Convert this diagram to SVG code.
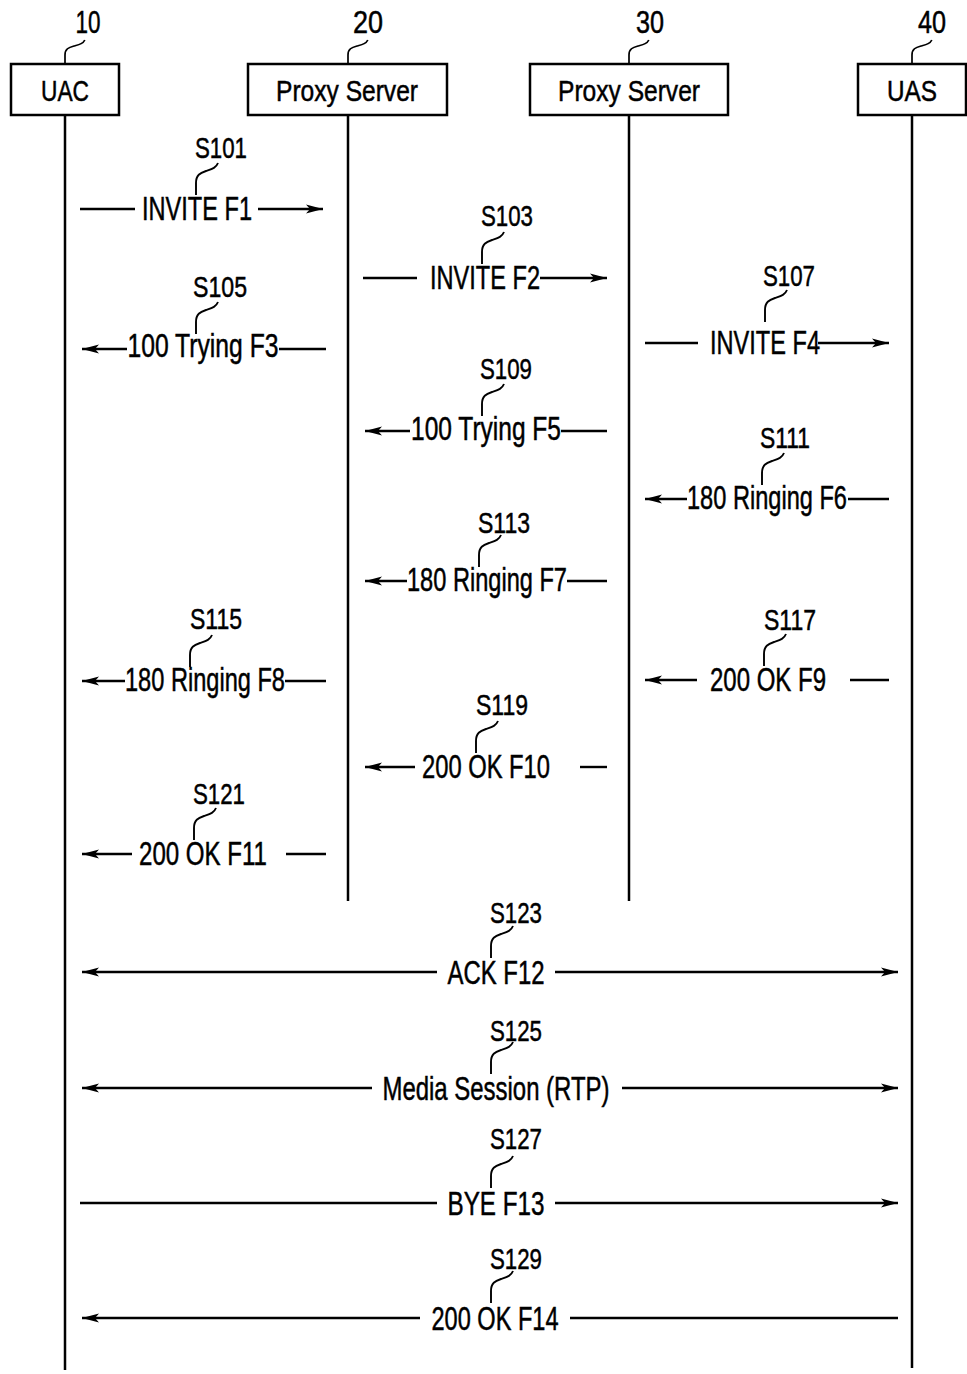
<svg xmlns="http://www.w3.org/2000/svg" xmlns:xlink="http://www.w3.org/1999/xlink" width="967" height="1374" viewBox="0 0 967 1374">
<style>
.bg{fill:#fff}
.box{fill:#fff;stroke:#000;stroke-width:2.5}
.life{stroke:#000;stroke-width:2.5;fill:none}
.msg{stroke:#000;stroke-width:2.4;fill:none}
.ld{stroke:#000;stroke-width:1.9;fill:none}
text{font-family:"Liberation Sans Narrow","Liberation Sans",Arial,sans-serif;fill:#000;stroke:#000;stroke-width:0.5;text-anchor:middle}
.nm{font-size:30px}
.num{font-size:32px}
.sl{font-size:30px}
.ml{font-size:33px}
</style>
<defs>
<marker id="ah" markerWidth="20" markerHeight="12" refX="17" refY="6" orient="auto" markerUnits="userSpaceOnUse">
<path d="M0,1.5 L17,6 L0,10.5 L4,6 z" fill="#000"/>
</marker>
<path id="lead" class="ld" d="M0,0 L0,-12 C0,-20 4,-22 10,-24 C16,-26 20,-27 22,-32"/>
</defs>
<rect class="bg" x="0" y="0" width="967" height="1374"/>

<g id="node-uac">
<rect class="box" x="11" y="64" width="108" height="51"/>
<text class="nm" x="65" y="101" textLength="48" lengthAdjust="spacingAndGlyphs">UAC</text>
<text class="num" x="88" y="33" textLength="25" lengthAdjust="spacingAndGlyphs">10</text>
<use xlink:href="#lead" transform="translate(65,64) scale(0.9,0.75)"/>
<line class="life" x1="65" y1="115" x2="65" y2="1370"/>
</g>
<g id="node-proxy20">
<rect class="box" x="248" y="64" width="199" height="51"/>
<text class="nm" x="347" y="101" textLength="142" lengthAdjust="spacingAndGlyphs">Proxy Server</text>
<text class="num" x="368" y="33" textLength="30" lengthAdjust="spacingAndGlyphs">20</text>
<use xlink:href="#lead" transform="translate(348,64) scale(0.9,0.75)"/>
<line class="life" x1="348" y1="115" x2="348" y2="901"/>
</g>
<g id="node-proxy30">
<rect class="box" x="530" y="64" width="198" height="51"/>
<text class="nm" x="629" y="101" textLength="142" lengthAdjust="spacingAndGlyphs">Proxy Server</text>
<text class="num" x="650" y="33" textLength="28" lengthAdjust="spacingAndGlyphs">30</text>
<use xlink:href="#lead" transform="translate(629,64) scale(0.9,0.75)"/>
<line class="life" x1="629" y1="115" x2="629" y2="901"/>
</g>
<g id="node-uas">
<rect class="box" x="858" y="64" width="108" height="51"/>
<text class="nm" x="912" y="101" textLength="50" lengthAdjust="spacingAndGlyphs">UAS</text>
<text class="num" x="932" y="33" textLength="28" lengthAdjust="spacingAndGlyphs">40</text>
<use xlink:href="#lead" transform="translate(912,64) scale(0.9,0.75)"/>
<line class="life" x1="912" y1="115" x2="912" y2="1368"/>
</g>

<g id="connectors">
<g id="m-f1">
<line class="msg" x1="80" y1="209" x2="135" y2="209"/>
<line class="msg" x1="258" y1="209" x2="323" y2="209" marker-end="url(#ah)"/>
<text class="ml" x="197" y="220" textLength="110" lengthAdjust="spacingAndGlyphs">INVITE F1</text>
<text class="sl" x="221" y="158" textLength="52" lengthAdjust="spacingAndGlyphs">S101</text>
<use xlink:href="#lead" transform="translate(196,195)"/>
</g>
<g id="m-f2">
<line class="msg" x1="363" y1="278" x2="417" y2="278"/>
<line class="msg" x1="540" y1="278" x2="607" y2="278" marker-end="url(#ah)"/>
<text class="ml" x="485" y="289" textLength="110" lengthAdjust="spacingAndGlyphs">INVITE F2</text>
<text class="sl" x="507" y="226" textLength="52" lengthAdjust="spacingAndGlyphs">S103</text>
<use xlink:href="#lead" transform="translate(482,264)"/>
</g>
<g id="m-f3">
<line class="msg" x1="127" y1="349" x2="82" y2="349" marker-end="url(#ah)"/>
<line class="msg" x1="279" y1="349" x2="326" y2="349"/>
<text class="ml" x="203" y="357" textLength="151" lengthAdjust="spacingAndGlyphs">100 Trying F3</text>
<text class="sl" x="220" y="297" textLength="54" lengthAdjust="spacingAndGlyphs">S105</text>
<use xlink:href="#lead" transform="translate(196,334)"/>
</g>
<g id="m-f4">
<line class="msg" x1="645" y1="343" x2="698" y2="343"/>
<line class="msg" x1="818" y1="343" x2="889" y2="343" marker-end="url(#ah)"/>
<text class="ml" x="765" y="354" textLength="110" lengthAdjust="spacingAndGlyphs">INVITE F4</text>
<text class="sl" x="789" y="286" textLength="52" lengthAdjust="spacingAndGlyphs">S107</text>
<use xlink:href="#lead" transform="translate(765,322)"/>
</g>
<g id="m-f5">
<line class="msg" x1="410" y1="431" x2="365" y2="431" marker-end="url(#ah)"/>
<line class="msg" x1="561" y1="431" x2="607" y2="431"/>
<text class="ml" x="486" y="440" textLength="150" lengthAdjust="spacingAndGlyphs">100 Trying F5</text>
<text class="sl" x="506" y="379" textLength="52" lengthAdjust="spacingAndGlyphs">S109</text>
<use xlink:href="#lead" transform="translate(482,416)"/>
</g>
<g id="m-f6">
<line class="msg" x1="687" y1="499" x2="645" y2="499" marker-end="url(#ah)"/>
<line class="msg" x1="848" y1="499" x2="889" y2="499"/>
<text class="ml" x="767" y="509" textLength="160" lengthAdjust="spacingAndGlyphs">180 Ringing F6</text>
<text class="sl" x="785" y="448" textLength="50" lengthAdjust="spacingAndGlyphs">S111</text>
<use xlink:href="#lead" transform="translate(762,485)"/>
</g>
<g id="m-f7">
<line class="msg" x1="407" y1="581" x2="365" y2="581" marker-end="url(#ah)"/>
<line class="msg" x1="567" y1="581" x2="607" y2="581"/>
<text class="ml" x="487" y="591" textLength="160" lengthAdjust="spacingAndGlyphs">180 Ringing F7</text>
<text class="sl" x="504" y="533" textLength="52" lengthAdjust="spacingAndGlyphs">S113</text>
<use xlink:href="#lead" transform="translate(479,567)"/>
</g>
<g id="m-f8">
<line class="msg" x1="125" y1="681" x2="82" y2="681" marker-end="url(#ah)"/>
<line class="msg" x1="285" y1="681" x2="326" y2="681"/>
<text class="ml" x="205" y="691" textLength="160" lengthAdjust="spacingAndGlyphs">180 Ringing F8</text>
<text class="sl" x="216" y="629" textLength="52" lengthAdjust="spacingAndGlyphs">S115</text>
<use xlink:href="#lead" transform="translate(190,667)"/>
</g>
<g id="m-f9">
<line class="msg" x1="697" y1="680" x2="645" y2="680" marker-end="url(#ah)"/>
<line class="msg" x1="850" y1="680" x2="889" y2="680"/>
<text class="ml" x="768" y="691" textLength="116" lengthAdjust="spacingAndGlyphs">200 OK F9</text>
<text class="sl" x="790" y="630" textLength="52" lengthAdjust="spacingAndGlyphs">S117</text>
<use xlink:href="#lead" transform="translate(764,666)"/>
</g>
<g id="m-f10">
<line class="msg" x1="415" y1="767" x2="365" y2="767" marker-end="url(#ah)"/>
<line class="msg" x1="580" y1="767" x2="607" y2="767"/>
<text class="ml" x="486" y="778" textLength="128" lengthAdjust="spacingAndGlyphs">200 OK F10</text>
<text class="sl" x="502" y="715" textLength="52" lengthAdjust="spacingAndGlyphs">S119</text>
<use xlink:href="#lead" transform="translate(476,753)"/>
</g>
<g id="m-f11">
<line class="msg" x1="132" y1="854" x2="82" y2="854" marker-end="url(#ah)"/>
<line class="msg" x1="286" y1="854" x2="326" y2="854"/>
<text class="ml" x="203" y="865" textLength="128" lengthAdjust="spacingAndGlyphs">200 OK F11</text>
<text class="sl" x="219" y="804" textLength="52" lengthAdjust="spacingAndGlyphs">S121</text>
<use xlink:href="#lead" transform="translate(194,840)"/>
</g>
<g id="m-f12">
<line class="msg" x1="437" y1="972" x2="82" y2="972" marker-end="url(#ah)"/>
<line class="msg" x1="555" y1="972" x2="898" y2="972" marker-end="url(#ah)"/>
<text class="ml" x="496" y="984" textLength="97" lengthAdjust="spacingAndGlyphs">ACK F12</text>
<text class="sl" x="516" y="923" textLength="52" lengthAdjust="spacingAndGlyphs">S123</text>
<use xlink:href="#lead" transform="translate(491,958)"/>
</g>
<g id="m-rtp">
<line class="msg" x1="372" y1="1088" x2="82" y2="1088" marker-end="url(#ah)"/>
<line class="msg" x1="622" y1="1088" x2="898" y2="1088" marker-end="url(#ah)"/>
<text class="ml" x="496" y="1100" textLength="227" lengthAdjust="spacingAndGlyphs">Media Session (RTP)</text>
<text class="sl" x="516" y="1041" textLength="52" lengthAdjust="spacingAndGlyphs">S125</text>
<use xlink:href="#lead" transform="translate(491,1074)"/>
</g>
<g id="m-f13">
<line class="msg" x1="80" y1="1203" x2="437" y2="1203"/>
<line class="msg" x1="555" y1="1203" x2="898" y2="1203" marker-end="url(#ah)"/>
<text class="ml" x="496" y="1215" textLength="97" lengthAdjust="spacingAndGlyphs">BYE F13</text>
<text class="sl" x="516" y="1149" textLength="52" lengthAdjust="spacingAndGlyphs">S127</text>
<use xlink:href="#lead" transform="translate(491,1188)"/>
</g>
<g id="m-f14">
<line class="msg" x1="420" y1="1318" x2="82" y2="1318" marker-end="url(#ah)"/>
<line class="msg" x1="570" y1="1318" x2="898" y2="1318"/>
<text class="ml" x="495" y="1330" textLength="127" lengthAdjust="spacingAndGlyphs">200 OK F14</text>
<text class="sl" x="516" y="1269" textLength="52" lengthAdjust="spacingAndGlyphs">S129</text>
<use xlink:href="#lead" transform="translate(491,1303)"/>
</g>
</g>
</svg>
